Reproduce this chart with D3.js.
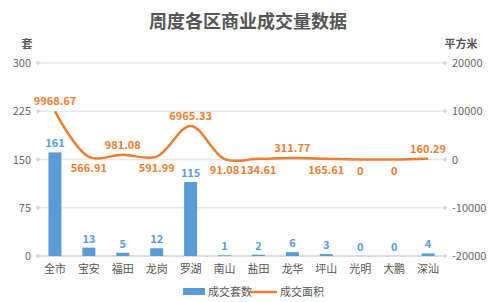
<!DOCTYPE html>
<html>
<head>
<meta charset="utf-8">
<script src="https://cdn.jsdelivr.net/npm/d3@7"></script>
<style>
body { margin: 0; background: #fff; }
svg text { font-family: "Noto Sans CJK SC", "Microsoft YaHei", sans-serif; }
</style>
</head>
<body>
<div id="chart"></div>
<script>
// categories and values
var districts = ["全市", "宝安", "福田", "龙岗", "罗湖", "南山", "盐田", "龙华", "坪山", "光明", "大鹏", "深汕"];
var units = [161, 13, 5, 12, 115, 1, 2, 6, 3, 0, 0, 4];
var areas = [9968.67, 566.91, 981.08, 591.99, 6965.33, 91.08, 134.61, 311.77, 165.61, 0, 0, 160.29];
var leftTicks = [0, 75, 150, 225, 300];
var rightTicks = [-20000, -10000, 0, 10000, 20000];
// which area labels sit above the line
var areaLabelAbove = [true, false, true, false, true, false, false, true, false, false, false, true];

var W = 496, H = 302;
var margin = {top: 63, right: 51, bottom: 46, left: 38};

var svg = d3.select("#chart").append("svg")
	.attr("width", W).attr("height", H);

var x = d3.scaleBand().domain(districts).range([margin.left, W - margin.right]);
var yL = d3.scaleLinear().domain([0, 300]).range([H - margin.bottom, margin.top]);
var yR = d3.scaleLinear().domain([-20000, 20000]).range([H - margin.bottom, margin.top]);

// title
svg.append("text")
	.attr("x", 248).attr("y", 28)
	.attr("text-anchor", "middle")
	.attr("font-size", 18).attr("font-weight", "bold")
	.attr("fill", "#555")
	.text("周度各区商业成交量数据");

svg.append("text").attr("x", 27).attr("y", 48).attr("text-anchor", "middle")
	.attr("font-size", 11).attr("font-weight", "bold").attr("fill", "#555").text("套");
svg.append("text").attr("x", 461).attr("y", 48).attr("text-anchor", "middle")
	.attr("font-size", 11).attr("font-weight", "bold").attr("fill", "#555").text("平方米");

// grid lines
svg.selectAll(".grid").data(leftTicks).enter().append("line")
	.attr("x1", margin.left).attr("x2", W - margin.right)
	.attr("y1", function(d) { return yL(d); })
	.attr("y2", function(d) { return yL(d); })
	.attr("stroke", function(d) { return d == 0 ? "#d0d0d0" : "#e8e8e8"; })
	.attr("stroke-width", 1.5);

// tick diamonds
function diamond(cx, cy) {
	svg.append("path")
		.attr("d", "M" + cx + "," + (cy - 2.5) + "L" + (cx + 2.5) + "," + cy + "L" + cx + "," + (cy + 2.5) + "L" + (cx - 2.5) + "," + cy + "Z")
		.attr("fill", "#d8d8d8");
}
leftTicks.forEach(function(d) { diamond(margin.left, yL(d)); });
rightTicks.forEach(function(d) { diamond(W - margin.right, yR(d)); });

svg.selectAll(".ltick").data(leftTicks).enter().append("text")
	.attr("x", 31).attr("y", function(d) { return yL(d) + 4; })
	.attr("text-anchor", "end").attr("font-size", 11).attr("fill", "#666")
	.text(function(d) { return d; });
svg.selectAll(".rtick").data(rightTicks).enter().append("text")
	.attr("x", 452).attr("y", function(d) { return yR(d) + 4; })
	.attr("text-anchor", "start").attr("font-size", 11).attr("fill", "#666")
	.text(function(d) { return d; });

// x labels
svg.selectAll(".xlab").data(districts).enter().append("text")
	.attr("x", function(d) { return x(d) + x.bandwidth() / 2; })
	.attr("y", 273)
	.attr("text-anchor", "middle").attr("font-size", 11).attr("fill", "#555")
	.text(function(d) { return d; });

// bars
var bw = 13;
svg.selectAll(".bar").data(units).enter().append("rect")
	.attr("x", function(d, i) { return x(districts[i]) + x.bandwidth() / 2 - bw / 2; })
	.attr("y", function(d) { return yL(d); })
	.attr("width", bw)
	.attr("height", function(d) { return yL(0) - yL(d); })
	.attr("fill", "#5b9bd5");

svg.selectAll(".barlab").data(units).enter().append("text")
	.attr("x", function(d, i) { return x(districts[i]) + x.bandwidth() / 2; })
	.attr("y", function(d) { return yL(d) - 5; })
	.attr("text-anchor", "middle").attr("font-size", 11).attr("font-weight", "bold")
	.attr("fill", "#5b9bd5")
	.text(function(d) { return d; });

// area line
var line = d3.line()
	.x(function(d, i) { return x(districts[i]) + x.bandwidth() / 2; })
	.y(function(d) { return yR(d); })
	.curve(d3.curveCatmullRom.alpha(0.5));

svg.append("path").datum(areas)
	.attr("d", line)
	.attr("fill", "none")
	.attr("stroke", "#ed7d31")
	.attr("stroke-width", 2.5);

svg.selectAll(".arealab").data(areas).enter().append("text")
	.attr("x", function(d, i) { return x(districts[i]) + x.bandwidth() / 2; })
	.attr("y", function(d, i) { return areaLabelAbove[i] ? yR(d) - 6 : yR(d) + 15; })
	.attr("text-anchor", "middle").attr("font-size", 11).attr("font-weight", "bold")
	.attr("fill", "#ed7d31")
	.text(function(d) { return d; });

// legend
svg.append("rect").attr("x", 183).attr("y", 288).attr("width", 22).attr("height", 7).attr("fill", "#5b9bd5");
svg.append("text").attr("x", 208).attr("y", 296).attr("font-size", 11).attr("fill", "#555").text("成交套数");
svg.append("line").attr("x1", 250).attr("x2", 277).attr("y1", 292).attr("y2", 292)
	.attr("stroke", "#ed7d31").attr("stroke-width", 2.5);
svg.append("text").attr("x", 280).attr("y", 296).attr("font-size", 11).attr("fill", "#555").text("成交面积");
</script>
</body>
</html>
